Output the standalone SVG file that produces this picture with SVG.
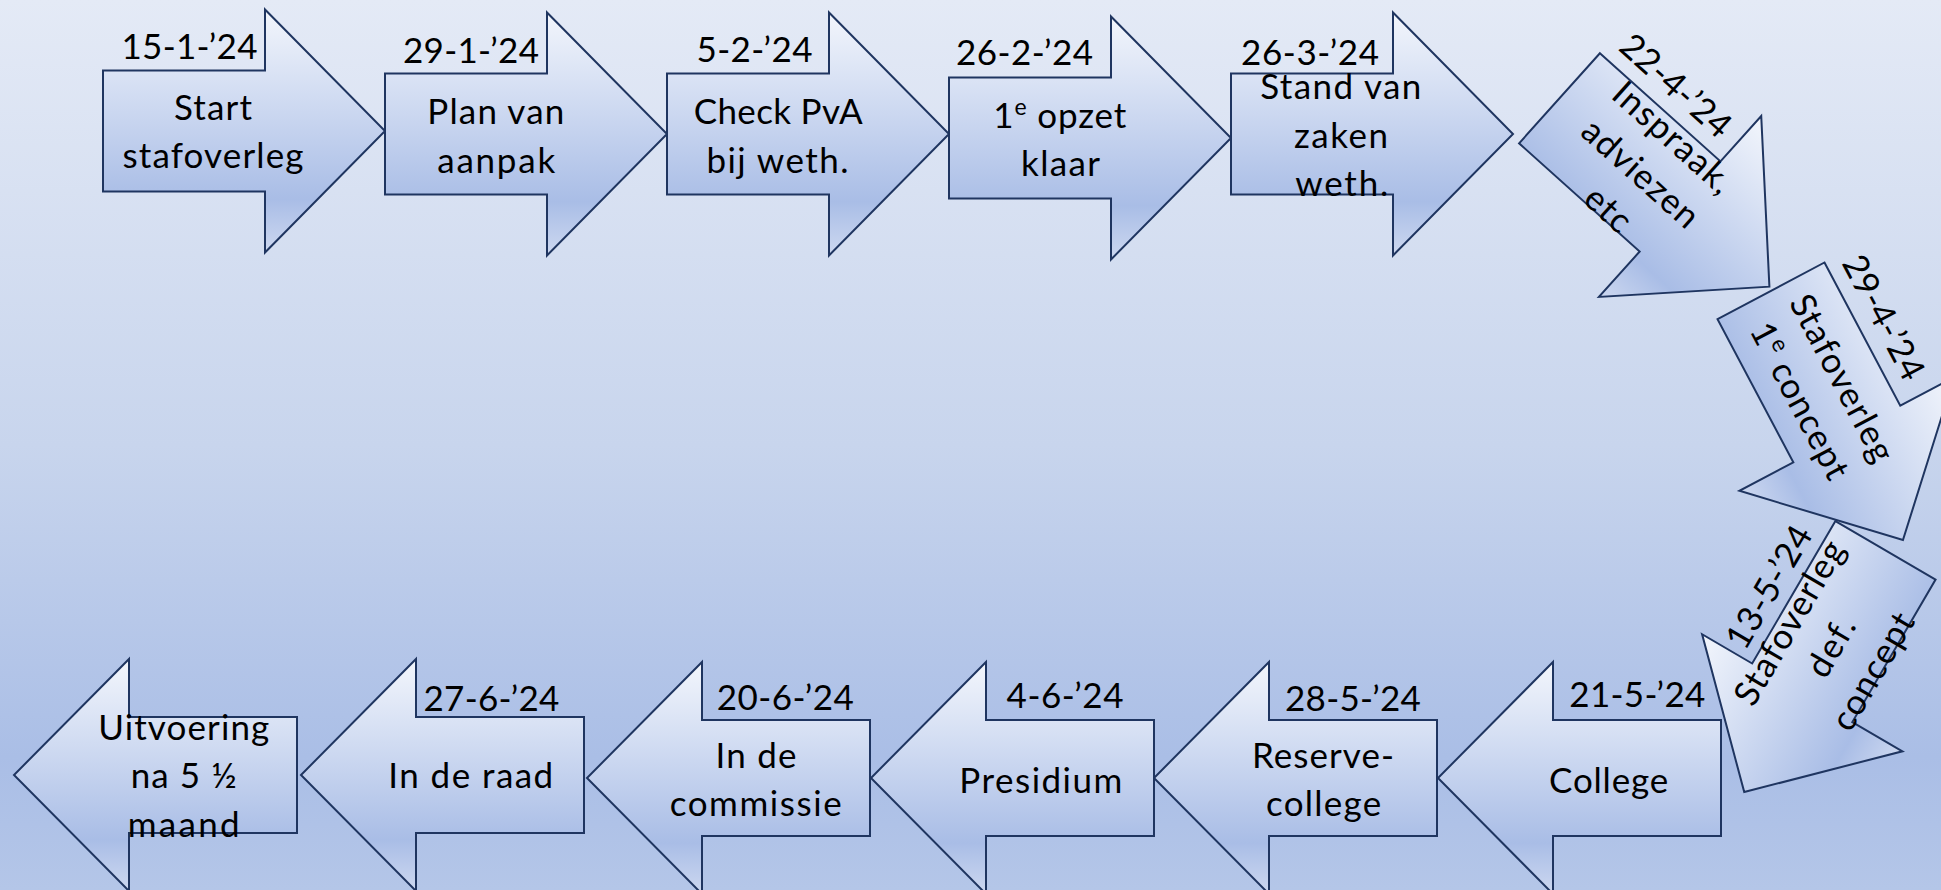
<svg xmlns="http://www.w3.org/2000/svg" xmlns:xlink="http://www.w3.org/1999/xlink" width="1941" height="890" viewBox="0 0 1941 890">
<defs>
<linearGradient id="bg" x1="0" y1="0" x2="0" y2="1">
<stop offset="0" stop-color="#e4eaf6"/>
<stop offset="0.5" stop-color="#c8d5ed"/>
<stop offset="0.85" stop-color="#aabee6"/>
<stop offset="1" stop-color="#b4c6e8"/>
</linearGradient>
<linearGradient id="ag" x1="0" y1="0" x2="0" y2="1">
<stop offset="0" stop-color="#f3f6fc"/>
<stop offset="0.78" stop-color="#a9bde6"/>
<stop offset="1" stop-color="#cdd8f0"/>
</linearGradient>
<path id="ra" d="M0,-60.5 H162 V-121.5 L282,0 L162,121.5 V60.5 H0 Z"/>
<path id="la" d="M0,-58 H-168 V-116 L-283,0 L-168,116 V58 H0 Z"/>
<path id="la8" d="M0,-58 H-165 V-116 L-280,0 L-165,116 V58 H0 Z"/>
</defs>
<style>
.sh{fill:url(#ag);stroke:#1f3560;stroke-width:2;stroke-linejoin:miter}
.t{font-family:Lato,"Liberation Sans",sans-serif;font-size:35px;fill:#000;text-anchor:middle;white-space:pre}
</style>
<rect x="0" y="0" width="1941" height="890" fill="url(#bg)"/>
<g id="connectors"/>

<g id="n1" transform="translate(103,131)">
<use href="#ra" class="sh"/>
<text class="t" x="86.5" y="-71.7" textLength="136">15-1-’24</text>
<text class="t" x="110" y="-11" textLength="78">Start</text>
<text class="t" x="110" y="37" textLength="181">stafoverleg</text>
</g>

<g id="n2" transform="translate(385,134)">
<use href="#ra" class="sh"/>
<text class="t" x="86" y="-71.3" textLength="136">29-1-’24</text>
<text class="t" x="110.8" y="-9.7" textLength="137">Plan van</text>
<text class="t" x="111.2" y="38.7" textLength="118">aanpak</text>
</g>

<g id="n3" transform="translate(667,134)">
<use href="#ra" class="sh"/>
<text class="t" x="87.5" y="-72.3" textLength="116">5-2-’24</text>
<text class="t" x="111.2" y="-9.7" textLength="169">Check PvA</text>
<text class="t" x="110.5" y="38.7" textLength="142">bij weth.</text>
</g>

<g id="n4" transform="translate(949,138)">
<use href="#ra" class="sh"/>
<text class="t" x="75.5" y="-73" textLength="137">26-2-’24</text>
<text class="t" x="110.8" y="-9.7" textLength="133">1<tspan font-size="23" dy="-13">e</tspan><tspan dy="13"> opzet</tspan></text>
<text class="t" x="111.5" y="38" textLength="79">klaar</text>
</g>

<g id="n5" transform="translate(1231,134)">
<use href="#ra" class="sh"/>
<text class="t" x="79" y="-69" textLength="138">26-3-’24</text>
<text class="t" x="109.8" y="-34.7" textLength="161">Stand van</text>
<text class="t" x="110" y="13.7" textLength="94">zaken</text>
<text class="t" x="110.7" y="62" textLength="93">weth.</text>
</g>

<g id="n6" transform="translate(1559.5,98.3) rotate(41.9)">
<use href="#ra" class="sh"/>
<text class="t" x="78.3" y="-75" textLength="136">22-4-’24</text>
<text class="t" x="110.5" y="-34.5" textLength="148">Inspraak,</text>
<text class="t" x="110.5" y="13.7" textLength="144">adviezen</text>
<text class="t" x="110.5" y="62" textLength="50">etc</text>
</g>

<g id="n7" transform="translate(1771,290.8) rotate(62.1)">
<use href="#ra" class="sh"/>
<text class="t" x="76.3" y="-75" textLength="136">29-4-’24</text>
<text class="t" x="110.5" y="-10" textLength="184">Stafoverleg</text>
<text class="t" x="110.5" y="38" textLength="172">1<tspan font-size="23" dy="-13">e</tspan><tspan dy="13"> concept</tspan></text>
</g>

<g id="n8" transform="translate(1885.5,550.3) rotate(-59.7)">
<use href="#la8" class="sh"/>
<text class="t" x="-90.5" y="-70" textLength="136">13-5-’24</text>
<text class="t" x="-111" y="-34.5" textLength="184">Stafoverleg</text>
<text class="t" x="-111" y="13.7" textLength="63">def.</text>
<text class="t" x="-111" y="62" textLength="130">concept</text>
</g>

<g id="n9" transform="translate(1721,778)">
<use href="#la" class="sh"/>
<text class="t" x="-83.7" y="-71.3" textLength="136">21-5-’24</text>
<text class="t" x="-112.4" y="15.3" textLength="119">College</text>
</g>

<g id="n10" transform="translate(1437,778)">
<use href="#la" class="sh"/>
<text class="t" x="-84.1" y="-67.3" textLength="136">28-5-’24</text>
<text class="t" x="-114" y="-9.7" textLength="142">Reserve-</text>
<text class="t" x="-113.4" y="38" textLength="115">college</text>
</g>

<g id="n11" transform="translate(1154,778)">
<use href="#la" class="sh"/>
<text class="t" x="-89" y="-69.7" textLength="117">4-6-’24</text>
<text class="t" x="-113.2" y="15.3" textLength="163">Presidium</text>
</g>

<g id="n12" transform="translate(870,778)">
<use href="#la" class="sh"/>
<text class="t" x="-84.7" y="-68" textLength="137">20-6-’24</text>
<text class="t" x="-114" y="-9.7" textLength="81">In de</text>
<text class="t" x="-114.3" y="38" textLength="172">commissie</text>
</g>

<g id="n13" transform="translate(584,775)">
<use href="#la" class="sh"/>
<text class="t" x="-92.6" y="-64.3" textLength="136">27-6-’24</text>
<text class="t" x="-113.3" y="13.3" textLength="165">In de raad</text>
</g>

<g id="n14" transform="translate(297,775)">
<use href="#la" class="sh"/>
<text class="t" x="-113.3" y="-35" textLength="171">Uitvoering</text>
<text class="t" x="-113.3" y="13.3" textLength="106">na 5 ½</text>
<text class="t" x="-113.3" y="61.7" textLength="112">maand</text>
</g>
</svg>
